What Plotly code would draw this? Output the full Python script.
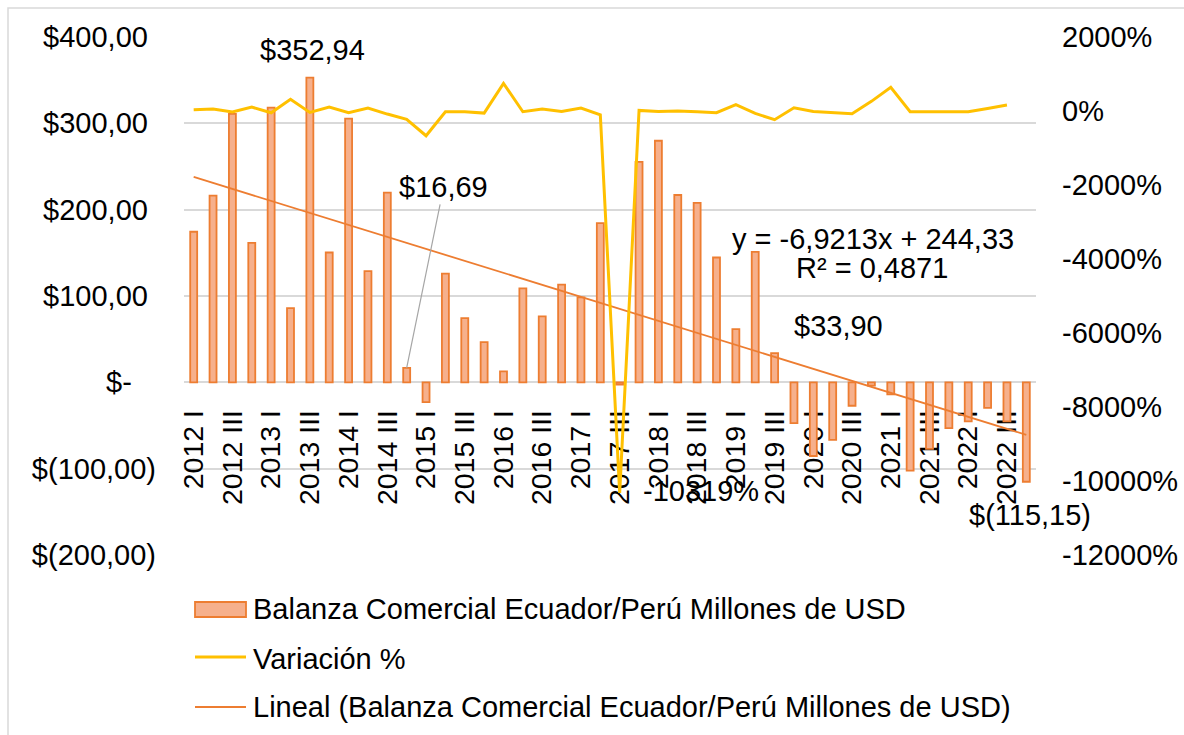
import numpy as np
import plotly.graph_objects as go

# Quarterly categories 2012 I .. 2022 IV
years = list(range(2012, 2023))
quarters = ['I', 'II', 'III', 'IV']
cats = [f"{y} {q}" for y in years for q in quarters]

# Balanza Comercial Ecuador/Peru (millones de USD)
balanza = [174.4, 216.3, 310.9, 161.6, 318.2, 86.0, 352.94, 150.4,
           305.4, 128.7, 219.8, 16.69, -22.9, 126.0, 74.4, 46.5,
           12.8, 108.9, 76.4, 113.2, 98.4, 184.5, -2.5, 255.4,
           279.8, 217.0, 207.8, 144.6, 61.6, 151.2, 33.90, -47.3,
           -85.3, -66.7, -27.1, -3.9, -14.0, -102.3, -77.1, -53.1,
           -45.3, -29.5, -45.3, -115.15]

# Variacion % (plotted from the first quarter on, 43 points)
variacion = [34, 52, -29, 106, -47, 314, -38, 106, -47, 79,
             -83, -227, -669, -20, -20, -56, 747, -20, 52, -11,
             79, -101, -10319, 16, -11, -2, -20, -47, 170, -65,
             -236, 88, -11, -38, -74, 260, 639, -20, -20, -11,
             -20, 70, 161]

left_ticks = [400, 300, 200, 100, 0, -100, -200]
left_text = ['$400,00\u00a0', '$300,00\u00a0', '$200,00\u00a0', '$100,00\u00a0',
             '$-\u00a0\u00a0\u00a0', '$(100,00)', '$(200,00)']
right_ticks = [2000, 0, -2000, -4000, -6000, -8000, -10000, -12000]
right_text = [f"{v}%" for v in right_ticks]

legend_names = ['Balanza Comercial Ecuador/Perú Millones de USD',
                'Variación %',
                'Lineal (Balanza Comercial Ecuador/Perú Millones de USD)']

# linear trend (Excel "Lineal")
xi = np.arange(1, len(balanza) + 1)
slope, inter = np.polyfit(xi, balanza, 1)
trend = slope * xi + inter

FONT = "Liberation Sans, Arial, sans-serif"
FS = 29
ORANGE = '#ED7D31'
YELLOW = '#FFC000'
BARFILL = '#F6B08C'

W, H = 1184, 735
# plot area in page pixels
L, T, PW, PH = 184, 37, 852, 518
def px(x):
    return (x - L) / PW
def py(y):
    return (T + PH - y) / PH

fig = go.Figure()

fig.add_trace(go.Bar(x=cats, y=balanza, name=legend_names[0],
                     marker=dict(color=BARFILL, line=dict(color=ORANGE, width=1.8)),
                     width=0.36, showlegend=False))
fig.add_trace(go.Scatter(x=cats[:len(variacion)], y=variacion, name=legend_names[1], mode='lines',
                         line=dict(color=YELLOW, width=3), yaxis='y2', showlegend=False))
fig.add_trace(go.Scatter(x=cats, y=trend, mode='lines', name=legend_names[2],
                         line=dict(color=ORANGE, width=1.8), showlegend=False))

# data labels
ann = []
ann.append(dict(x=cats[6], y=balanza[6], text='$352,94', showarrow=False,
                yanchor='bottom', yshift=10, xshift=3))
ann.append(dict(x=cats[11], y=balanza[11], text='$16,69', showarrow=True, arrowhead=0,
                arrowcolor='#A6A6A6', arrowwidth=1.2, ax=37, ay=-181, standoff=0))
ann.append(dict(x=cats[30], y=balanza[30], text='$33,90', showarrow=False,
                xshift=64, yshift=27))
ann.append(dict(x=cats[43], y=balanza[43], text='$(115,15)', showarrow=False,
                yanchor='top', yshift=-15, xshift=4))
ann.append(dict(x=cats[22], y=variacion[22], yref='y2', text='-10319%', showarrow=False,
                xshift=81, yshift=2))
ann.append(dict(x=px(873), y=py(239), xref='paper', yref='paper', text='y = -6,9213x + 244,33',
                showarrow=False, xanchor='center', yanchor='middle'))
ann.append(dict(x=px(872), y=py(268), xref='paper', yref='paper', text='R² = 0,4871',
                showarrow=False, xanchor='center', yanchor='middle'))

# legend (Excel style, wide swatches)
legend_y = [609, 659, 707]
for name, yy in zip(legend_names, legend_y):
    ann.append(dict(x=px(251), y=py(yy), xref='paper', yref='paper', text=name,
                    showarrow=False, xanchor='left', yanchor='middle'))
for a in ann:
    a['font'] = dict(size=FS, color='#000000', family=FONT)

shapes = [
    dict(type='rect', xref='paper', yref='paper', x0=px(195), x1=px(246), y0=py(617), y1=py(602),
         fillcolor=BARFILL, line=dict(color=ORANGE, width=1.8)),
    dict(type='line', xref='paper', yref='paper', x0=px(195), x1=px(246), y0=py(657), y1=py(657),
         line=dict(color=YELLOW, width=3)),
    dict(type='line', xref='paper', yref='paper', x0=px(195), x1=px(246), y0=py(707), y1=py(707),
         line=dict(color=ORANGE, width=1.8)),
    # chart border (Excel chart area outline)
    dict(type='rect', xref='paper', yref='paper', x0=px(8), x1=1.4, y0=-0.6, y1=py(8),
         line=dict(color='#D9D9D9', width=1.5), layer='below'),
]

fig.update_layout(
    width=W, height=H,
    margin=dict(l=L, r=W - L - PW, t=T, b=H - T - PH),
    plot_bgcolor='white', paper_bgcolor='white',
    font=dict(family=FONT, size=FS, color='#000000'),
    showlegend=False,
    xaxis=dict(type='category', tickmode='array', tickvals=cats[::2], ticktext=cats[::2],
               tickangle=-90, anchor='free', position=1/3, showgrid=False,
               showline=False, ticks='', ticklabelstandoff=21, automargin=False,
               layer='below traces', range=[-0.5, len(cats) - 0.5],
               tickfont=dict(size=28.5)),
    yaxis=dict(range=[-200, 400], tickmode='array', tickvals=left_ticks, ticktext=left_text,
               showgrid=True, gridcolor='#D9D9D9', gridwidth=1.5, zeroline=False,
               ticks='', ticklabelstandoff=27, automargin=False, tickfont=dict(size=FS)),
    yaxis2=dict(range=[-12000, 2000], overlaying='y', side='right', tickmode='array',
                tickvals=right_ticks, ticktext=right_text, showgrid=False, zeroline=False,
                ticks='', ticklabelstandoff=25, automargin=False, tickfont=dict(size=FS)),
    annotations=ann,
    shapes=shapes,
)

# drop the browser's default 8px body margin so the figure fills the window
fig.write_html("out.html", config={'displayModeBar': False},
               post_script="document.body.style.margin='0';")
